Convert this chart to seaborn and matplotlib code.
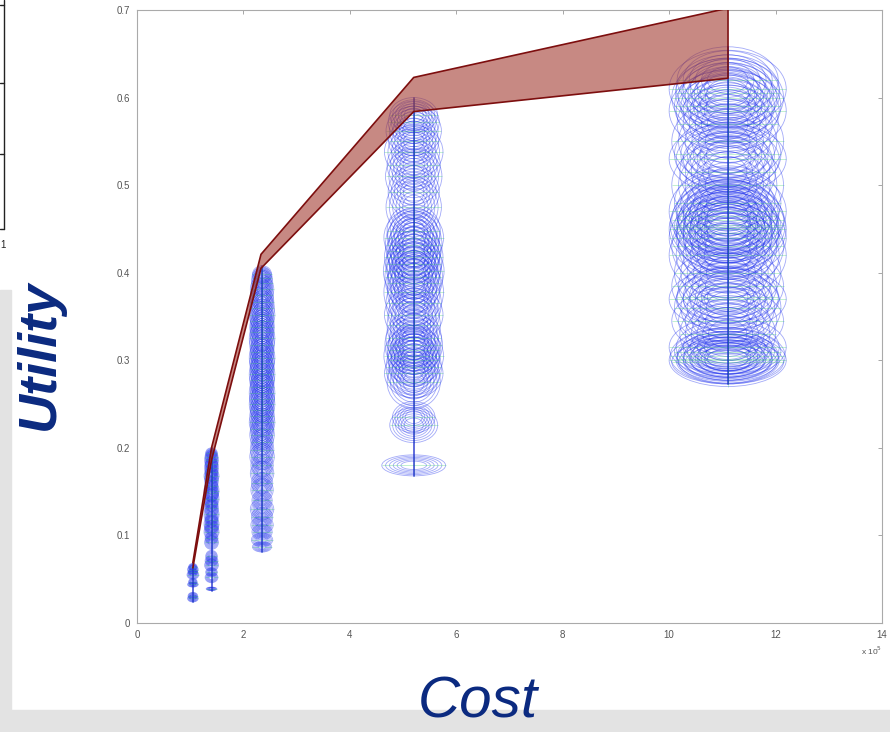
import numpy as np
import pandas as pd
import seaborn as sns
import matplotlib.pyplot as plt
from matplotlib.collections import EllipseCollection
from matplotlib.patches import Rectangle
from matplotlib.lines import Line2D

# %%
# data (cost in units of 1e5)
frontier_cost = [1.05, 1.4, 2.33, 5.2, 11.1]
frontier_hi = [0.069, 0.200, 0.421, 0.623, 0.702]
frontier_lo = [0.063, 0.186, 0.405, 0.584, 0.622]

cost_a = 1.05
util_a = [0.028, 0.031, 0.044, 0.047, 0.055, 0.058, 0.061, 0.064]
du_a = [0.004, 0.004, 0.003, 0.004, 0.005, 0.004, 0.005, 0.004]
dc_a = [0.10, 0.09, 0.10, 0.08, 0.11, 0.09, 0.10, 0.08]

cost_b = 1.4
util_b = [0.039, 0.052, 0.058, 0.066, 0.071, 0.076, 0.092, 0.097, 0.104, 0.109,
          0.113, 0.118, 0.124, 0.131, 0.136, 0.142, 0.148, 0.151, 0.157, 0.163,
          0.168, 0.172, 0.177, 0.181, 0.186, 0.190, 0.194]
du_b = [0.002, 0.006, 0.005, 0.007, 0.006, 0.007, 0.008, 0.007, 0.009, 0.008,
        0.010, 0.009, 0.011, 0.010, 0.009, 0.011, 0.010, 0.012, 0.010, 0.011,
        0.009, 0.010, 0.011, 0.009, 0.010, 0.008, 0.006]
dc_b = [0.10, 0.12, 0.11, 0.13, 0.12, 0.11, 0.13, 0.12, 0.14, 0.13,
        0.14, 0.12, 0.14, 0.13, 0.12, 0.14, 0.13, 0.14, 0.12, 0.13,
        0.14, 0.12, 0.13, 0.12, 0.13, 0.12, 0.11]

cost_c = 2.35
util_c = [0.087, 0.095, 0.104, 0.112, 0.121, 0.130, 0.140, 0.152, 0.160, 0.171,
          0.180, 0.190, 0.198, 0.207, 0.215, 0.222, 0.229, 0.236, 0.243, 0.250,
          0.256, 0.263, 0.270, 0.277, 0.284, 0.290, 0.297, 0.303, 0.310, 0.318,
          0.325, 0.332, 0.338, 0.345, 0.352, 0.360, 0.367, 0.374, 0.381, 0.388,
          0.394, 0.398]
du_c = [0.006, 0.008, 0.009, 0.010, 0.011, 0.012, 0.011, 0.013, 0.012, 0.014,
        0.013, 0.015, 0.016, 0.015, 0.017, 0.018, 0.016, 0.019, 0.018, 0.020,
        0.019, 0.021, 0.020, 0.019, 0.021, 0.022, 0.020, 0.021, 0.019, 0.022,
        0.020, 0.021, 0.019, 0.020, 0.018, 0.019, 0.017, 0.018, 0.016, 0.015,
        0.012, 0.010]
dc_c = [0.18, 0.20, 0.19, 0.21, 0.20, 0.22, 0.19, 0.21, 0.20, 0.22,
        0.21, 0.23, 0.22, 0.21, 0.23, 0.22, 0.24, 0.23, 0.22, 0.24,
        0.23, 0.24, 0.22, 0.23, 0.24, 0.22, 0.23, 0.24, 0.22, 0.23,
        0.24, 0.22, 0.23, 0.22, 0.24, 0.23, 0.22, 0.21, 0.22, 0.20,
        0.19, 0.18]

cost_d = 5.2
util_d = [0.180, 0.226, 0.235, 0.275, 0.285, 0.292, 0.300, 0.305, 0.312, 0.318,
          0.325, 0.340, 0.352, 0.365, 0.378, 0.388, 0.395, 0.402, 0.410, 0.418,
          0.425, 0.432, 0.440, 0.448, 0.475, 0.492, 0.510, 0.523, 0.538, 0.550,
          0.562, 0.572, 0.580]
du_d = [0.012, 0.020, 0.018, 0.030, 0.028, 0.035, 0.030, 0.033, 0.028, 0.034,
        0.032, 0.036, 0.030, 0.034, 0.038, 0.035, 0.040, 0.036, 0.038, 0.034,
        0.037, 0.039, 0.033, 0.030, 0.034, 0.030, 0.032, 0.028, 0.030, 0.026,
        0.028, 0.024, 0.020]
dc_d = [0.60, 0.45, 0.40, 0.50, 0.55, 0.52, 0.48, 0.56, 0.50, 0.54,
        0.52, 0.50, 0.55, 0.52, 0.56, 0.50, 0.54, 0.57, 0.52, 0.55,
        0.50, 0.53, 0.56, 0.50, 0.52, 0.48, 0.53, 0.50, 0.55, 0.47,
        0.52, 0.48, 0.45]

cost_e = 11.1
util_e = [0.298, 0.300, 0.302, 0.305, 0.310, 0.315, 0.330, 0.345, 0.360, 0.370,
          0.372, 0.385, 0.400, 0.420, 0.430, 0.440, 0.445, 0.450, 0.452, 0.455,
          0.460, 0.465, 0.470, 0.480, 0.500, 0.515, 0.530, 0.535, 0.550, 0.570,
          0.585, 0.590, 0.600, 0.605, 0.610, 0.620]
du_e = [0.025, 0.030, 0.028, 0.032, 0.026, 0.035, 0.040, 0.038, 0.045, 0.035,
        0.040, 0.042, 0.045, 0.048, 0.050, 0.045, 0.052, 0.048, 0.040, 0.050,
        0.046, 0.044, 0.048, 0.042, 0.050, 0.045, 0.040, 0.042, 0.048, 0.044,
        0.046, 0.042, 0.045, 0.040, 0.044, 0.038]
dc_e = [1.05, 1.10, 0.95, 1.08, 1.00, 1.10, 0.90, 1.05, 1.00, 1.10,
        0.95, 1.05, 1.00, 1.10, 1.05, 1.10, 0.95, 1.10, 1.00, 1.08,
        1.05, 0.95, 1.10, 1.00, 1.05, 0.90, 1.10, 1.00, 1.05, 0.95,
        1.10, 1.00, 1.05, 0.98, 1.10, 0.95]

groups = [(cost_a, util_a, du_a, dc_a), (cost_b, util_b, du_b, dc_b),
          (cost_c, util_c, du_c, dc_c), (cost_d, util_d, du_d, dc_d),
          (cost_e, util_e, du_e, dc_e)]

# %%
sns.set_style("white")
plt.rcParams['font.family'] = ['Liberation Sans', 'DejaVu Sans']

fig = plt.figure(figsize=(8.9, 7.32), dpi=100)
fig.patch.set_facecolor('white')

# slide background bits (gray strips + piece of the neighbouring chart)
fig.patches.append(Rectangle((0, 0), 0.012, 1 - 290 / 732, transform=fig.transFigure,
                             color='#e3e3e3', zorder=0))
fig.patches.append(Rectangle((0, 0), 1, 22 / 732, transform=fig.transFigure,
                             color='#e3e3e3', zorder=0))
fig.lines.append(Line2D([4 / 890, 4 / 890], [1, 1 - 229 / 732], transform=fig.transFigure,
                        color='#222222', lw=1))
for yy in [5, 83, 154, 229]:
    fig.lines.append(Line2D([0, 4 / 890], [1 - yy / 732] * 2, transform=fig.transFigure,
                            color='#222222', lw=1))
fig.text(3 / 890, 1 - 245 / 732, '1', fontsize=7, ha='center', va='center', color='#222222')

ax = fig.add_axes([137 / 890, 1 - 623 / 732, (882 - 137) / 890, (623 - 10) / 732])

# ellipses: cost / utility uncertainty of each design (drawn as nested contours)
for cost, util, du, dc in groups:
    xs = np.full(len(util), cost)
    offsets = np.column_stack([xs, util])
    for level in [1.0, 0.88, 0.76, 0.64, 0.52, 0.4]:
        ec = EllipseCollection(2 * level * np.array(dc), 2 * level * np.array(du),
                               np.zeros(len(util)), units='xy', offsets=offsets,
                               offset_transform=ax.transData, facecolors='none',
                               edgecolors='#2233ee', linewidths=0.6, alpha=0.42, zorder=2)
        ax.add_collection(ec)
    ax.errorbar(xs, util, xerr=dc, yerr=du, fmt='none', ecolor='#33cc66',
                elinewidth=0.6, alpha=0.35, zorder=3)
    ax.plot([cost, cost], [min(util) - du[0], max(util) + du[-1]], color='#1a2acc',
            lw=1.3, alpha=0.75, zorder=3)

# pareto band
front = pd.DataFrame({'cost': frontier_cost, 'hi': frontier_hi, 'lo': frontier_lo})
ax.fill_between(front['cost'], front['lo'], front['hi'], facecolor='#a33a30', alpha=0.6,
                edgecolor='none', zorder=4)
sns.lineplot(data=front, x='cost', y='hi', color='#7d0e0e', lw=1.2, ax=ax, zorder=5)
sns.lineplot(data=front, x='cost', y='lo', color='#7d0e0e', lw=1.2, ax=ax, zorder=5)
ax.plot([frontier_cost[-1]] * 2, [frontier_lo[-1], frontier_hi[-1]], color='#7d0e0e',
        lw=1.2, zorder=5)

ax.set_xlim(0, 14)
ax.set_ylim(0, 0.7)
ax.set_xticks(range(0, 15, 2))
ax.set_xticklabels([str(v) for v in range(0, 15, 2)])
ax.set_yticks(np.arange(0, 0.71, 0.1))
ax.set_yticklabels(['0', '0.1', '0.2', '0.3', '0.4', '0.5', '0.6', '0.7'])
ax.tick_params(direction='in', length=3, width=0.6, color='#999999', labelsize=7,
               labelcolor='#555555', top=True, right=True, pad=5)
for s in ax.spines.values():
    s.set_color('#aaaaaa')
    s.set_linewidth(0.8)
ax.set_xlabel('')
ax.set_ylabel('')
ax.text(1.0, -0.045, r'x 10$^5$', transform=ax.transAxes, ha='right', va='center',
        fontsize=6, color='#555555')

fig.text(40 / 890, 1 - 355 / 732, 'Utility', rotation=90, ha='center', va='center',
         fontsize=39, fontstyle='italic', fontweight='bold', color='#0b2a80')
fig.text(478 / 890, 1 - 703 / 732, 'Cost', ha='center', va='center',
         fontsize=42, fontstyle='italic', color='#0b2a80')

plt.savefig('out.png', dpi=100)
